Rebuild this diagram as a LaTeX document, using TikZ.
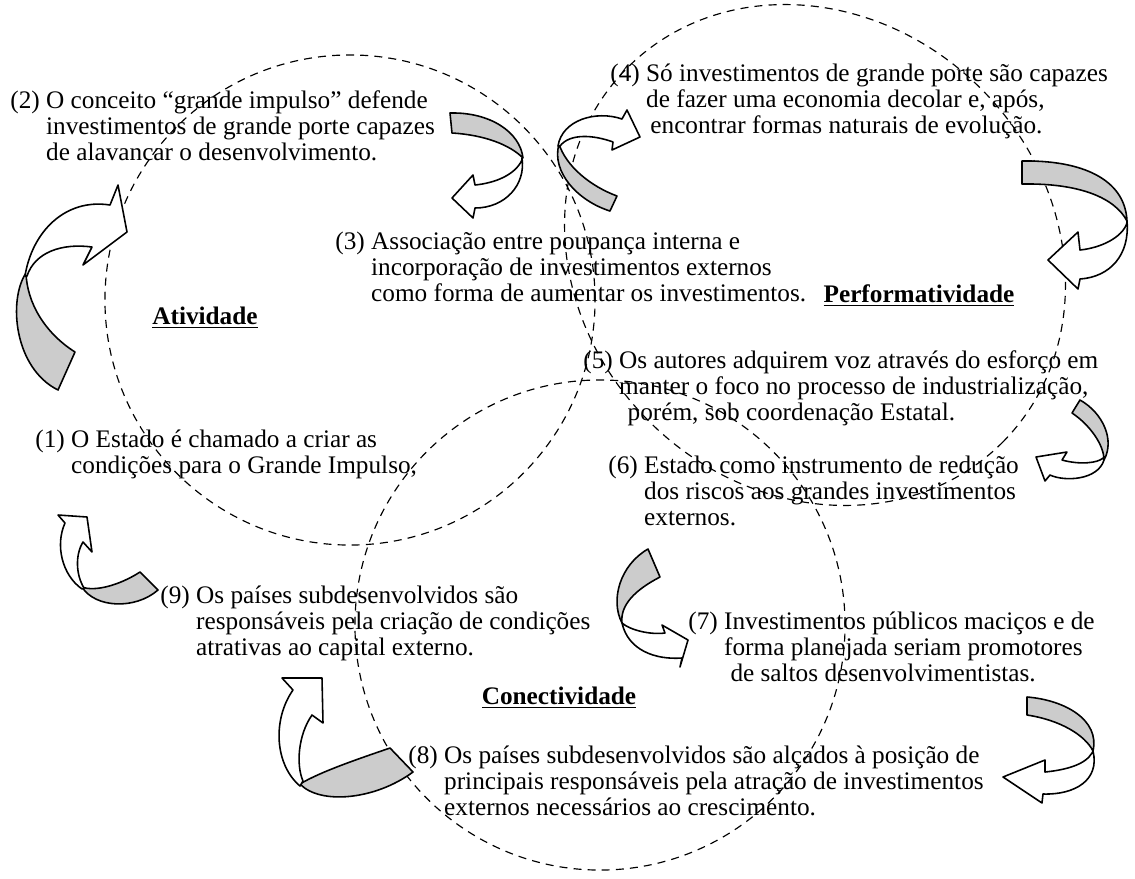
\documentclass[tikz,border=0pt]{standalone}
\usepackage{fontspec}
\setmainfont{Liberation Serif}
\tikzset{
  ring/.style={dash pattern=on 3.8pt off 2.9pt, line width=0.55pt},
  back/.style={draw=black, fill=gray!40, line width=0.75pt, line join=round},
  front/.style={draw=black, fill=white, line width=0.75pt, line join=round},
  txt/.style={anchor=base west, inner sep=0pt, font=\fontsize{12}{12.35}\selectfont},
  lbl/.style={anchor=base, inner sep=0pt, font=\fontsize{12}{12.35}\selectfont\bfseries},
}
\newcommand\hang[2]{#1~\begin{tabular}[t]{@{}l@{}}#2\end{tabular}}
\begin{document}
\begin{tikzpicture}[x=0.475pt, y=-0.475pt]
	\useasboundingbox (0,0) rectangle (1135,878);
	% the three dashed circles
	\draw[ring] (350,300) circle[radius=116.4pt];
	\draw[ring, shift={(815,255)}, rotate=-45] (0,0) ellipse[x radius=125.9pt, y radius=111.6pt];
	\draw[ring] (600,625) circle[radius=116.4pt];

	% curved arrows
	\filldraw[back] (75,352) .. controls (45,333) and (27,303) .. (26,273) .. controls (8,300) and (14,368) .. (58,390) -- cycle;
	\filldraw[front] (25,276) .. controls (32,232) and (65,198) .. (110,205) -- (118,185) -- (127,232) -- (83,265) -- (92,247) .. controls (62,243) and (35,252) .. (27,276) -- cycle;

	\filldraw[back] (617,196) .. controls (590,186) and (566,166) .. (559,144) .. controls (551,172) and (578,201) .. (610,211) -- cycle;
	\filldraw[front] (558,146) .. controls (562,120) and (596,110) .. (622,119) -- (627,110) -- (640,137) -- (612,150) -- (613,142) .. controls (594,135) and (570,133) .. (560,146) -- cycle;

	\filldraw[back] (450,113) .. controls (490,112) and (520,132) .. (523,158) .. controls (510,145) and (485,135) .. (452,133) -- cycle;
	\filldraw[front] (522,158) .. controls (526,185) and (505,208) .. (475,208) -- (473,218) -- (452,198) -- (473,175) -- (475,185) .. controls (495,183) and (515,175) .. (522,160) -- cycle;

	\filldraw[back] (1022,161) .. controls (1080,160) and (1125,178) .. (1127,221) .. controls (1115,198) and (1080,183) .. (1022,184) -- cycle;
	\filldraw[front] (1127,221) .. controls (1130,255) and (1110,277) .. (1080,279) -- (1078,289) -- (1048,260) -- (1078,232) -- (1080,250) .. controls (1100,248) and (1122,238) .. (1127,223) -- cycle;

	\filldraw[back] (1080,400) .. controls (1103,413) and (1115,440) .. (1104,460) .. controls (1104,445) and (1090,425) .. (1072,413) -- cycle;
	\filldraw[front] (1104,460) .. controls (1098,480) and (1065,482) .. (1050,475) -- (1045,481) -- (1036,457) -- (1067,452) -- (1062,460) .. controls (1080,465) and (1098,463) .. (1103,458) -- cycle;

	\filldraw[back] (660,577) .. controls (635,590) and (620,605) .. (622,623) .. controls (610,600) and (620,565) .. (648,549) -- cycle;
	\filldraw[front] (622,623) .. controls (628,650) and (655,660) .. (682,658) -- (680,667) -- (688,640) -- (662,625) -- (665,633) .. controls (650,635) and (630,630) .. (622,623) -- cycle;

	\filldraw[back] (1027,697) .. controls (1065,700) and (1100,720) .. (1093,751) .. controls (1085,735) and (1060,720) .. (1027,715) -- cycle;
	\filldraw[front] (1093,751) .. controls (1100,780) and (1075,795) .. (1043,794) -- (1042,803) -- (1003,777) -- (1045,760) -- (1045,772) .. controls (1065,770) and (1085,765) .. (1092,753) -- cycle;

	\filldraw[back] (390,748) .. controls (355,760) and (320,772) .. (300,784) .. controls (320,805) and (375,800) .. (413,772) -- cycle;
	\filldraw[front] (300,786) .. controls (275,765) and (272,720) .. (293,690) -- (282,678) -- (322,678) -- (323,723) -- (312,715) .. controls (298,735) and (296,765) .. (303,781) -- cycle;

	\filldraw[back] (140,572) .. controls (120,585) and (95,592) .. (82,587) .. controls (95,608) and (135,610) .. (158,590) -- cycle;
	\filldraw[front] (82,589) .. controls (62,575) and (55,545) .. (65,523) -- (58,515) -- (87,517) -- (92,552) -- (83,542) .. controls (75,555) and (76,575) .. (84,588) -- cycle;

	% texts
	\node[txt] (t2) at (10,108) {\hang{(2)}{O conceito “grande impulso” defende\\investimentos de grande porte capazes\\de alavancar o desenvolvimento.}};
	\node[txt] (t3) at (335,249) {\hang{(3)}{Associação entre poupança interna e\\incorporação de investimentos externos\\como forma de aumentar os investimentos.}};
	\node[txt] (t4) at (610,81) {\hang{(4)}{Só investimentos de grande porte são capazes\\de fazer uma economia decolar e, após,\\\hspace{2pt}encontrar formas naturais de evolução.}};
	\node[txt] (t5) at (583,368) {\hang{(5)}{Os autores adquirem voz através do esforço em\\manter o foco no processo de industrialização,\\\hspace{4pt}porém, sob coordenação Estatal.}};
	\node[txt] (t6) at (608,473) {\hang{(6)}{Estado como instrumento de redução\\dos riscos aos grandes investimentos\\externos.}};
	\node[txt] (t7) at (688,629) {\hang{(7)}{Investimentos públicos maciços e de\\forma planejada seriam promotores\\\hspace{3pt}de saltos desenvolvimentistas.}};
	\node[txt] (t8) at (408,763) {\hang{(8)}{Os países subdesenvolvidos são alçados à posição de\\principais responsáveis pela atração de investimentos\\externos necessários ao crescimento.}};
	\node[txt] (t9) at (160,603) {\hang{(9)}{Os países subdesenvolvidos são\\responsáveis pela criação de condições\\atrativas ao capital externo.}};
	\node[txt] (t1) at (35,447) {\hang{(1)}{O Estado é chamado a criar as\\condições para o Grande Impulso,}};

	\node[lbl] (ativ) at (205,324) {\underline{Atividade}};
	\node[lbl] (perf) at (919,302) {\underline{Performatividade}};
	\node[lbl] (conec) at (559,704) {\underline{Conectividade}};
\end{tikzpicture}
\end{document}
